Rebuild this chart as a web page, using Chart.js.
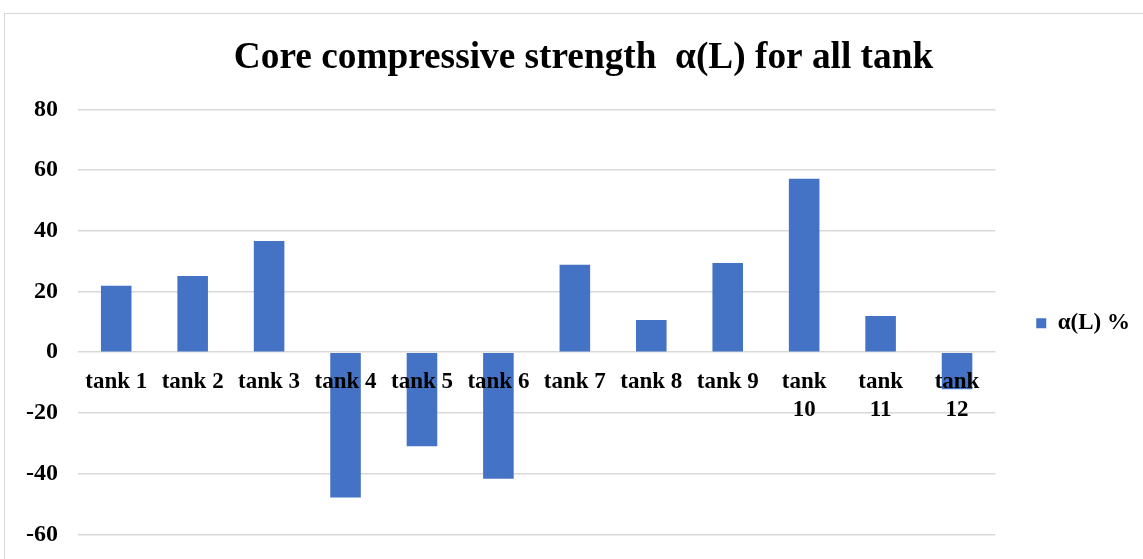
<!DOCTYPE html>
<html>
<head>
<meta charset="utf-8">
<script src="https://cdn.jsdelivr.net/npm/chart.js@4.4.1/dist/chart.umd.min.js"></script>
<style>
  html, body { margin: 0; padding: 0; background: #ffffff; }
  #wrap { position: relative; width: 1143px; height: 559px; overflow: hidden; }
  #frame { position: absolute; left: 4px; top: 13px; width: 1200px; height: 600px; border: 1px solid #d9d9d9; box-sizing: border-box; }
  #c { position: absolute; left: 0; top: 0; }
</style>
</head>
<body>
<div id="wrap">
  <div id="frame"></div>
  <canvas id="c" width="1143" height="559"></canvas>
</div>
<script>
// Tanks along the x axis
const categories = ['tank 1', 'tank 2', 'tank 3', 'tank 4', 'tank 5', 'tank 6',
                    'tank 7', 'tank 8', 'tank 9', 'tank 10', 'tank 11', 'tank 12'];
// Core compressive strength alpha(L), in percent
const seriesName = 'α(L) %';
const alphaL = [21.9, 25.1, 36.6, -47.9, -31.0, -41.7, 28.8, 10.6, 29.4, 57.1, 11.9, -12.2];
// Value axis range and step
const yMin = -60, yMax = 80, yStep = 20;

const titleText = 'Core compressive strength  α(L) for all tank';
const serif = "'Liberation Serif', 'Times New Roman', serif";

// Fine placement of the title and legend blocks once layout is done
const blockNudge = {
  id: 'blockNudge',
  afterLayout(chart) {
    const t = chart.titleBlock;
    if (t) { t.left += 13.5; t.right += 13.5; }
    const lg = chart.legend;
    if (lg) { lg.top += 56; lg.bottom += 56; }
  }
};

new Chart(document.getElementById('c'), {
  type: 'bar',
  data: {
    labels: categories,
    datasets: [{
      label: seriesName,
      data: alphaL,
      backgroundColor: '#4472C4',
      borderWidth: 0,
      categoryPercentage: 1.0,
      barPercentage: 0.4
    }]
  },
  plugins: [blockNudge],
  options: {
    responsive: false,
    animation: false,
    layout: { padding: { left: 0, right: 3, top: 0, bottom: 24.7 } },
    plugins: {
      title: {
        display: true,
        text: titleText,
        color: '#000000',
        font: { family: serif, size: 37.3, weight: 'bold' },
        padding: { top: 36.3, bottom: 28.3 }
      },
      legend: {
        position: 'right',
        labels: {
          color: '#000000',
          font: { family: serif, size: 23, weight: 'bold' },
          boxWidth: 10,
          boxHeight: 10,
          padding: 41
        }
      },
      tooltip: { enabled: false }
    },
    scales: {
      x: {
        position: { y: 0 },
        grid: { display: false },
        border: { display: false },
        ticks: {
          z: 1, // category names sit on top of the bars
          color: '#000000',
          font: { family: serif, size: 23, weight: 'bold' },
          padding: 8,
          maxRotation: 0,
          autoSkip: false,
          callback: function (v) {
            const s = this.getLabelForValue(v);
            // two-digit tank names wrap onto a second line
            return s.length > 6 ? s.split(' ') : s;
          }
        }
      },
      y: {
        min: yMin,
        max: yMax,
        afterFit: (s) => { s.width = 78; s.paddingTop = 0; s.paddingBottom = 0; },
        grid: { color: '#d9d9d9', lineWidth: 1.5, drawTicks: false },
        border: { display: false },
        ticks: {
          stepSize: yStep,
          color: '#000000',
          padding: 20,
          font: { family: serif, size: 24, weight: 'bold' }
        }
      }
    }
  }
});
</script>
</body>
</html>
